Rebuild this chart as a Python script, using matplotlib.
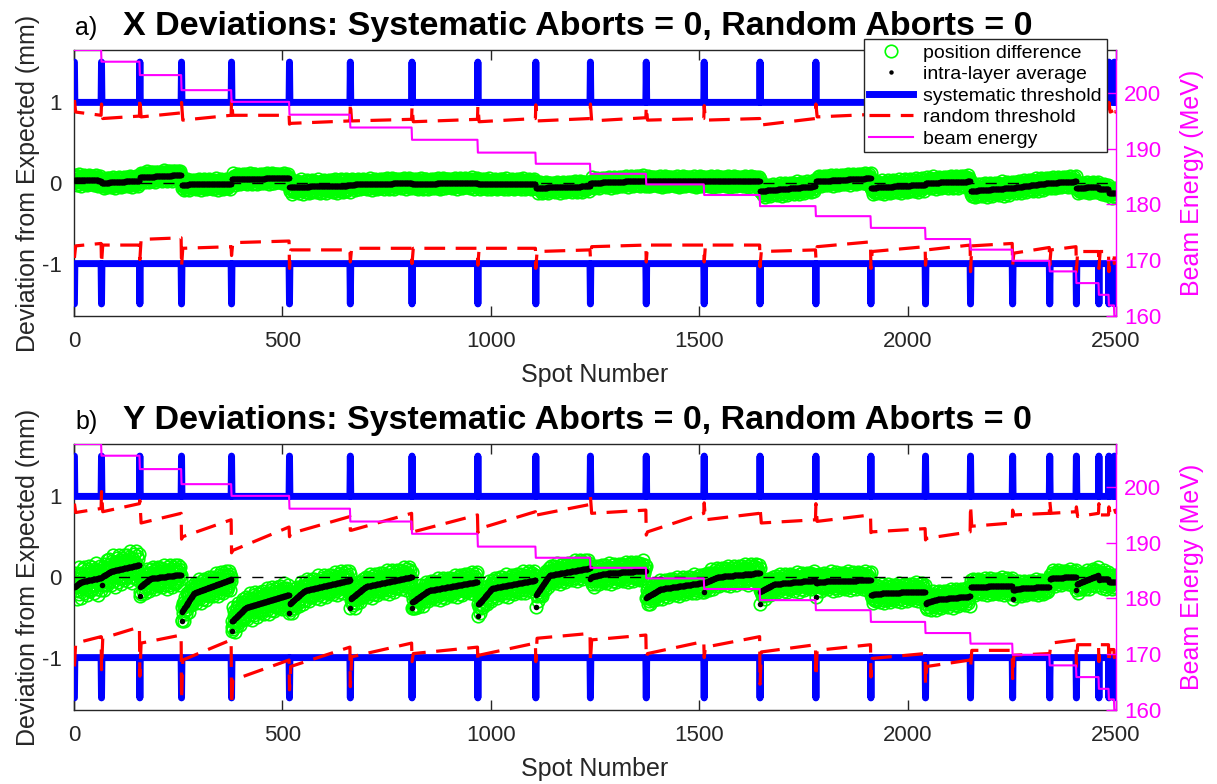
import numpy as np
import matplotlib
matplotlib.use('Agg')
import matplotlib.pyplot as plt
from matplotlib.lines import Line2D

plt.rcParams['font.family'] = ['Liberation Sans', 'DejaVu Sans']
plt.rcParams['axes.unicode_minus'] = False

n_spots = 2500
layer_start = [1, 66, 158, 258, 378, 517, 663, 811, 969, 1108, 1239, 1373,
               1512, 1646, 1780, 1912, 2043, 2151, 2252, 2341, 2405, 2459, 2483, 2496]
beam_energy = [207.7, 205.6, 203.2, 200.5, 198.4, 196.1, 193.8, 191.6, 189.3, 187.3,
               185.5, 183.6, 181.7, 179.7, 177.9, 175.8, 173.8, 171.9, 169.9, 168.0,
               165.9, 163.8, 161.9, 160.0]

# panel a) X deviations
x_avg_start = [0.04, 0.00, 0.07, -0.02, 0.05, -0.05, -0.02, -0.01, -0.01, -0.06, 0.00, 0.02,
               0.02, -0.10, 0.02, -0.06, 0.00, -0.10, -0.06, 0.00, -0.06, -0.08, -0.12, -0.12]
x_avg_end = [0.03, 0.03, 0.10, -0.01, 0.06, -0.03, 0.00, 0.00, -0.01, -0.04, 0.03, 0.02,
             0.02, -0.04, 0.06, -0.02, 0.02, -0.06, 0.00, 0.02, -0.05, -0.08, -0.12, -0.12]
x_spread = [0.07, 0.07, 0.07, 0.07, 0.07, 0.09, 0.07, 0.07, 0.07, 0.07, 0.07, 0.07,
            0.07, 0.08, 0.07, 0.09, 0.08, 0.09, 0.08, 0.07, 0.07, 0.07, 0.07, 0.07]
x_up_hook = [1.03, 0.98, 1.06, 1.00, 1.04, 0.73, 1.00, 0.95, 0.96, 0.97, 0.98, 0.95,
             0.96, 0.70, 0.98, 0.96, 0.97, 0.98, 0.99, 1.00, 1.00, 0.98, 1.00, 0.95]
x_up_start = [0.88, 0.80, 0.82, 0.78, 0.84, 0.74, 0.77, 0.76, 0.76, 0.77, 0.77, 0.78,
              0.78, 0.72, 0.82, 0.83, 0.84, 0.84, 0.85, 0.86, 0.86, 0.87, 0.88, 0.88]
x_up_end = [0.84, 0.83, 0.87, 0.84, 0.84, 0.77, 0.79, 0.79, 0.80, 0.80, 0.81, 0.80,
            0.80, 0.80, 0.85, 0.86, 0.86, 0.87, 0.88, 0.88, 0.89, 0.89, 0.90, 0.90]
x_lo_hook = [-0.93, -1.00, -0.95, -1.04, -0.90, -1.06, -0.98, -1.00, -1.02, -1.06, -0.93, -0.98,
             -0.98, -1.04, -0.93, -1.06, -1.02, -1.10, -1.02, -1.02, -1.10, -1.06, -1.10, -1.00]
x_lo_start = [-0.78, -0.77, -0.70, -0.81, -0.74, -0.83, -0.81, -0.81, -0.81, -0.85, -0.79, -0.77,
              -0.77, -0.85, -0.79, -0.85, -0.83, -0.78, -0.87, -0.83, -0.85, -0.85, -0.93, -0.93]
x_lo_end = [-0.75, -0.77, -0.68, -0.79, -0.72, -0.83, -0.81, -0.81, -0.81, -0.83, -0.77, -0.77,
            -0.77, -0.83, -0.73, -0.79, -0.77, -0.75, -0.80, -0.79, -0.85, -0.85, -0.93, -0.93]

# panel b) Y deviations
y_avg_first = [-0.13, -0.10, -0.23, -0.54, -0.67, -0.45, -0.39, -0.38, -0.48, -0.37, -0.03, -0.26,
               -0.19, -0.34, -0.25, -0.22, -0.33, -0.12, -0.27, -0.03, -0.16, -0.04, -0.06, -0.06]
y_avg_early = [-0.12, 0.00, -0.12, -0.43, -0.55, -0.33, -0.27, -0.31, -0.34, -0.22, 0.00, -0.25,
               -0.07, -0.18, -0.07, -0.22, -0.32, -0.12, -0.16, -0.02, -0.09, -0.03, -0.06, -0.06]
y_avg_mid = [-0.06, 0.07, -0.02, -0.20, -0.38, -0.17, -0.12, -0.17, -0.14, 0.02, 0.04, -0.15,
             0.00, -0.09, -0.05, -0.20, -0.28, -0.12, -0.14, -0.01, -0.06, -0.03, -0.06, -0.06]
y_avg_end = [-0.01, 0.15, 0.03, -0.03, -0.22, -0.04, 0.00, -0.06, -0.04, 0.11, 0.08, -0.07,
             0.05, -0.04, -0.04, -0.18, -0.24, -0.11, -0.12, 0.00, 0.02, -0.03, -0.06, -0.06]
y_spread = [0.20, 0.20, 0.15, 0.15, 0.17, 0.15, 0.15, 0.14, 0.14, 0.13, 0.13, 0.12,
            0.13, 0.12, 0.12, 0.12, 0.12, 0.11, 0.10, 0.10, 0.12, 0.12, 0.10, 0.10]
y_up_hook = [0.91, 1.06, 0.95, 0.47, 0.30, 0.50, 0.58, 0.52, 0.55, 0.72, 1.00, 0.52,
             0.92, 0.86, 0.91, 0.55, 0.46, 0.89, 0.83, 0.95, 0.87, 0.91, 0.87, 0.85]
y_up_start = [0.80, 0.81, 0.67, 0.50, 0.33, 0.54, 0.58, 0.56, 0.60, 0.77, 0.79, 0.56,
              0.71, 0.67, 0.69, 0.56, 0.48, 0.63, 0.77, 0.79, 0.75, 0.77, 0.79, 0.80]
y_up_end = [0.85, 0.91, 0.79, 0.71, 0.62, 0.75, 0.79, 0.77, 0.81, 0.90, 0.83, 0.79,
            0.79, 0.71, 0.77, 0.60, 0.56, 0.67, 0.79, 0.81, 0.79, 0.77, 0.79, 0.80]
y_lo_hook = [-1.11, -1.15, -1.23, -1.52, -1.58, -1.40, -1.36, -1.05, -1.05, -1.05, -1.05, -1.00,
             -1.00, -1.33, -1.24, -1.24, -1.32, -1.13, -1.26, -0.95, -1.11, -1.05, -1.07, -1.00]
y_lo_start = [-0.82, -0.76, -0.82, -1.03, -1.28, -1.11, -0.99, -0.95, -0.97, -0.76, -0.78, -0.95,
              -0.87, -0.93, -0.91, -1.01, -1.11, -0.91, -0.97, -0.82, -0.84, -0.84, -0.90, -0.90]
y_lo_end = [-0.74, -0.62, -0.72, -0.78, -1.03, -0.87, -0.82, -0.87, -0.82, -0.70, -0.72, -0.80,
            -0.74, -0.84, -0.84, -0.95, -1.03, -0.91, -0.95, -0.78, -0.84, -0.84, -0.90, -0.90]

# typical scatter of single spots about the layer average (in units of the layer spread)
scatter_pattern = [0.35, -0.55, 0.1, 0.8, -0.25, 0.5, -0.85, 0.2, -0.1, 0.65, -0.4, 0.0, 1.0,
                   -0.65, 0.3, -0.2, 0.55, -1.0, 0.15, 0.45, -0.35, 0.75, -0.05, -0.75, 0.25,
                   0.9, -0.5, 0.05, 0.6, -0.3, -0.9, 0.4, -0.15, 0.7, -0.6, 0.2, -0.45, 0.85,
                   -0.7, 0.1, 0.5]

spot = np.arange(1, n_spots + 1)
bounds = layer_start + [n_spots + 1]
layer_of = np.searchsorted(layer_start, spot, side='right') - 1


def layer_average(knot_lists):
    out = np.empty(n_spots)
    for k, b in enumerate(layer_start):
        last = bounds[k + 1] - 1
        idx = np.arange(b, last + 1)
        vals = [kl[k] for kl in knot_lists]
        if len(vals) == 2:
            xp = [b, last]
        else:
            xp = [b, b + 1, b + 0.25 * (last - b), last]
        xp = np.maximum.accumulate(np.array(xp, dtype=float))
        out[idx - 1] = np.interp(idx, xp, vals)
    return out


def positions(avg, spread):
    pat = np.array(scatter_pattern)
    pos = avg + np.array(spread)[layer_of] * pat[spot % len(pat)]
    first = np.array(layer_start) - 1
    pos[first] = avg[first]
    return pos


def threshold_knots(hook, start, end):
    xs, ys = [], []
    for k, b in enumerate(layer_start):
        last = bounds[k + 1] - 1
        xs += [b, min(b + 3, last), last]
        ys += [hook[k], start[k], end[k]]
    return xs, ys


def systematic_knots(level, peak):
    xs, ys = [], []
    for b in layer_start:
        if b > 1:
            xs.append(b - 1)
            ys.append(level)
        xs += [b, b + 1]
        ys += [peak, level]
    xs.append(n_spots)
    ys.append(level)
    return xs, ys


energy_spot = np.array(beam_energy)[layer_of]

dark = '0.15'
fig = plt.figure(figsize=(12.17, 7.84), dpi=100)


def draw_panel(rect, letter, title, avg, pos, up, lo, legend):
    ax = fig.add_axes(rect)
    ax.plot(spot, pos, 'o', mfc='none', mec=(0, 1, 0), ms=9, mew=1.2, zorder=2)
    ax.plot(spot, avg, 'o', color='k', ms=4, mew=0, zorder=3)
    for lev, pk in [(1, 1.5), (-1, -1.5)]:
        sx, sy = systematic_knots(lev, pk)
        ax.plot(sx, sy, color=(0, 0, 1), lw=5, solid_capstyle='round',
                solid_joinstyle='round', zorder=4)
    for th in (up, lo):
        tx, ty = threshold_knots(*th)
        ax.plot(tx, ty, color=(1, 0, 0), lw=2.3, ls=(0, (6.5, 3.3)), zorder=5)
    ax.axhline(0, color='k', lw=1, ls=(0, (8, 8)), zorder=6)

    ax.set_xlim(0, n_spots)
    ax.set_ylim(-1.65, 1.65)
    ax.set_xticks(range(0, 2501, 500))
    ax.set_yticks([-1, 0, 1])
    ax.tick_params(axis='both', direction='in', length=7.2, width=1, colors=dark,
                   labelsize=16, top=True, right=False)
    ax.tick_params(axis='x', pad=11)
    ax.tick_params(axis='y', pad=9)
    for s in ['left', 'bottom', 'top']:
        ax.spines[s].set_color(dark)
        ax.spines[s].set_linewidth(1)
    ax.spines['right'].set_visible(False)
    ax.set_xlabel('Spot Number', fontsize=18, color=dark)
    ax.xaxis.set_label_coords(0.5, -0.175)
    ax.set_ylabel('Deviation from Expected (mm)', fontsize=18, color=dark)
    ax.yaxis.set_label_coords(-0.033, 0.5)

    ax2 = ax.twinx()
    ax2.plot(spot, energy_spot, color=(1, 0, 1), lw=1.5)
    ax2.set_ylim(min(beam_energy), max(beam_energy))
    ax2.set_yticks([160, 170, 180, 190, 200])
    ax2.tick_params(axis='y', direction='in', length=7.2, width=1, colors=(1, 0, 1),
                    labelsize=16, pad=6)
    for s in ['left', 'bottom', 'top']:
        ax2.spines[s].set_visible(False)
    ax2.spines['right'].set_color((1, 0, 1))
    ax2.spines['right'].set_linewidth(1)
    ax2.set_ylabel('Beam Energy (MeV)', fontsize=18, color=(1, 0, 1), rotation=90)
    ax2.yaxis.set_label_coords(1.0614, 0.5)

    ytop = rect[1] + rect[3] + 15 / 784
    fig.text(75 / 1217, ytop, letter, fontsize=18, va='baseline', color='k')
    fig.text(123 / 1217, ytop, title, fontsize=24.5, fontweight='bold', va='baseline', color='k')

    if legend:
        handles = [
            Line2D([], [], ls='none', marker='o', mfc='none', mec=(0, 1, 0), ms=9, mew=1.2),
            Line2D([], [], ls='none', marker='o', color='k', ms=3.2, mew=0),
            Line2D([], [], color=(0, 0, 1), lw=5),
            Line2D([], [], color=(1, 0, 0), lw=2.3, ls=(0, (6.5, 3.3))),
            Line2D([], [], color=(1, 0, 1), lw=1.5),
        ]
        labels = ['position difference', 'intra-layer average', 'systematic threshold',
                  'random threshold', 'beam energy']
        leg = ax2.legend(handles, labels, loc='upper right', bbox_to_anchor=(0.991, 1.041),
                         borderaxespad=0, fontsize=14, fancybox=False, framealpha=1,
                         edgecolor=dark, labelspacing=0.2, handlelength=2.3,
                         handletextpad=0.5, borderpad=0.25)
        leg.get_frame().set_linewidth(1)
        leg.set_zorder(20)
    return ax


x_avg = layer_average([x_avg_start, x_avg_end])
x_pos = positions(x_avg, x_spread)
y_avg = layer_average([y_avg_first, y_avg_early, y_avg_mid, y_avg_end])
y_pos = positions(y_avg, y_spread)

left = 74 / 1217
width = 1042 / 1217
height = 266 / 784
draw_panel([left, 1 - 316 / 784, width, height], 'a)',
           'X Deviations: Systematic Aborts = 0, Random Aborts = 0',
           x_avg, x_pos, (x_up_hook, x_up_start, x_up_end),
           (x_lo_hook, x_lo_start, x_lo_end), True)
draw_panel([left, 1 - 710 / 784, width, height], 'b)',
           'Y Deviations: Systematic Aborts = 0, Random Aborts = 0',
           y_avg, y_pos, (y_up_hook, y_up_start, y_up_end),
           (y_lo_hook, y_lo_start, y_lo_end), False)

fig.savefig('out.png', dpi=100)
